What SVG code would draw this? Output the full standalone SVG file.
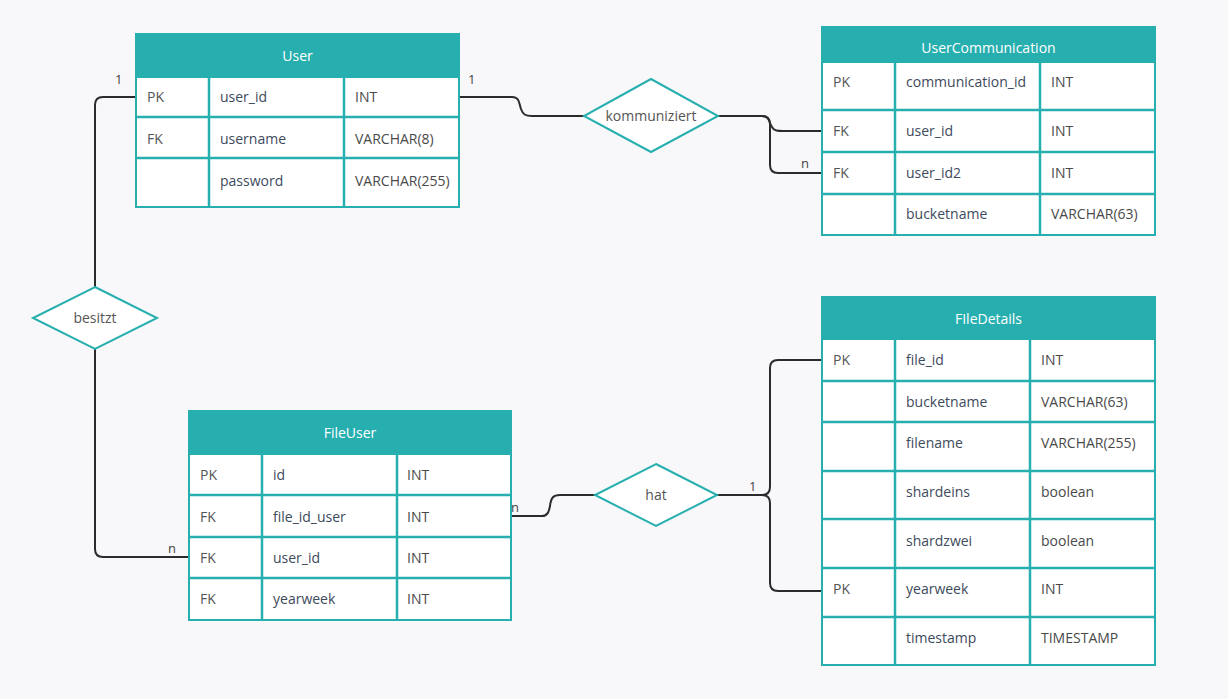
<svg xmlns="http://www.w3.org/2000/svg" width="1228" height="699" viewBox="0 0 1228 699">
<style>
  .bg{fill:#f8f8fb}
  .tbl{fill:#ffffff;stroke:#27afaf;stroke-width:2}
  .hdr{fill:#27afaf;stroke:#27afaf;stroke-width:2}
  .grid{stroke:#27afaf;stroke-width:2.5;fill:none}
  .ht{font-family:"Open Sans","Noto Sans",sans-serif;font-size:14px;fill:#ffffff;text-anchor:middle}
  .k{font-family:"Open Sans","Noto Sans",sans-serif;font-size:14px;fill:#555555}
  .f{font-family:"Open Sans","Noto Sans",sans-serif;font-size:14px;fill:#3d4a5c}
  .t{font-family:"Open Sans","Noto Sans",sans-serif;font-size:14px;fill:#4a4a4a}
  .dia{fill:#ffffff;stroke:#27afaf;stroke-width:2}
  .dt{font-family:"Open Sans","Noto Sans",sans-serif;font-size:14px;fill:#555555;text-anchor:middle}
  .con{fill:none;stroke:#2b2b2b;stroke-width:2}
  .lbl{font-family:"Open Sans","Noto Sans",sans-serif;font-size:13px;fill:#444444}
</style>
<rect class="bg" x="0" y="0" width="1228" height="699"/>

<g id="connectors">
  <!-- User - besitzt -->
  <path class="con" d="M136,97 L103,97 Q95,97 95,105 L95,287"/>
  <!-- besitzt - FileUser -->
  <path class="con" d="M95,349 L95,549 Q95,557 103,557 L189,557"/>
  <!-- User - kommuniziert -->
  <path class="con" d="M459,97 L512,97 C520,97 519,104 521,109 C523,115 526,116 532,116 L584,116"/>
  <!-- kommuniziert - UserCommunication -->
  <path class="con" d="M718,116 L762,116 C770,116 769,123 772,127 C774,131 778,131 783,131 L822,131"/>
  <path class="con" d="M762,116 Q770,116 770,124 L770,165 Q770,173 778,173 L822,173"/>
  <!-- FileUser - hat -->
  <path class="con" d="M511,516 L542,516 C548,516 549,511 550,506 C551,498 553,495 560,495 L595,495"/>
  <!-- hat - FIleDetails -->
  <path class="con" d="M717,495 L762,495 Q770,495 770,487 L770,368 Q770,360 778,360 L822,360"/>
  <path class="con" d="M762,495 Q770,495 770,503 L770,583 Q770,591 778,591 L822,591"/>
  <text class="lbl" x="115" y="84">1</text>
  <text class="lbl" x="168" y="553">n</text>
  <text class="lbl" x="468" y="84">1</text>
  <text class="lbl" x="801" y="168">n</text>
  <text class="lbl" x="511" y="512">n</text>
  <text class="lbl" x="749" y="491">1</text>
</g>

<g id="User">
  <rect class="tbl" x="136" y="34" width="323" height="173"/>
  <rect class="hdr" x="136" y="34" width="323" height="43"/>
  <text class="ht" x="297.5" y="61">User</text>
  <path class="grid" d="M136,117 H459 M136,158 H459 M209,77 V207 M344,77 V207"/>
  <text class="k" x="147" y="102">PK</text><text class="f" x="220" y="102">user_id</text><text class="t" x="355" y="102">INT</text>
  <text class="k" x="147" y="144">FK</text><text class="f" x="220" y="144">username</text><text class="t" x="355" y="144">VARCHAR(8)</text>
  <text class="f" x="220" y="186">password</text><text class="t" x="355" y="186">VARCHAR(255)</text>
</g>

<g id="UserCommunication">
  <rect class="tbl" x="822" y="27" width="333" height="208"/>
  <rect class="hdr" x="822" y="27" width="333" height="35"/>
  <text class="ht" x="988.5" y="53">UserCommunication</text>
  <path class="grid" d="M822,110 H1155 M822,152 H1155 M822,194 H1155 M895,62 V235 M1040,62 V235"/>
  <text class="k" x="833" y="87">PK</text><text class="f" x="906" y="87">communication_id</text><text class="t" x="1051" y="87">INT</text>
  <text class="k" x="833" y="136">FK</text><text class="f" x="906" y="136">user_id</text><text class="t" x="1051" y="136">INT</text>
  <text class="k" x="833" y="178">FK</text><text class="f" x="906" y="178">user_id2</text><text class="t" x="1051" y="178">INT</text>
  <text class="f" x="906" y="219">bucketname</text><text class="t" x="1051" y="219">VARCHAR(63)</text>
</g>

<g id="FileUser">
  <rect class="tbl" x="189" y="411" width="322" height="209"/>
  <rect class="hdr" x="189" y="411" width="322" height="43"/>
  <text class="ht" x="350" y="438">FileUser</text>
  <path class="grid" d="M189,495 H511 M189,537 H511 M189,578 H511 M262,454 V620 M397,454 V620"/>
  <text class="k" x="200" y="480">PK</text><text class="f" x="273" y="480">id</text><text class="t" x="407" y="480">INT</text>
  <text class="k" x="200" y="522">FK</text><text class="f" x="273" y="522">file_id_user</text><text class="t" x="407" y="522">INT</text>
  <text class="k" x="200" y="563">FK</text><text class="f" x="273" y="563">user_id</text><text class="t" x="407" y="563">INT</text>
  <text class="k" x="200" y="604">FK</text><text class="f" x="273" y="604">yearweek</text><text class="t" x="407" y="604">INT</text>
</g>

<g id="FIleDetails">
  <rect class="tbl" x="822" y="297" width="333" height="368"/>
  <rect class="hdr" x="822" y="297" width="333" height="42"/>
  <text class="ht" x="988.5" y="324">FIleDetails</text>
  <path class="grid" d="M822,381 H1155 M822,422 H1155 M822,471 H1155 M822,519 H1155 M822,568 H1155 M822,617 H1155 M895,339 V665 M1030,339 V665"/>
  <text class="k" x="833" y="365">PK</text><text class="f" x="906" y="365">file_id</text><text class="t" x="1041" y="365">INT</text>
  <text class="f" x="906" y="407">bucketname</text><text class="t" x="1041" y="407">VARCHAR(63)</text>
  <text class="f" x="906" y="448">filename</text><text class="t" x="1041" y="448">VARCHAR(255)</text>
  <text class="f" x="906" y="497">shardeins</text><text class="t" x="1041" y="497">boolean</text>
  <text class="f" x="906" y="546">shardzwei</text><text class="t" x="1041" y="546">boolean</text>
  <text class="k" x="833" y="594">PK</text><text class="f" x="906" y="594">yearweek</text><text class="t" x="1041" y="594">INT</text>
  <text class="f" x="906" y="643">timestamp</text><text class="t" x="1041" y="643">TIMESTAMP</text>
</g>

<g id="kommuniziert">
  <polygon class="dia" points="651,79 718,116 651,152 584,116"/>
  <text class="dt" x="651" y="121">kommuniziert</text>
</g>

<g id="besitzt">
  <polygon class="dia" points="95,287 157,318 95,349 33,318"/>
  <text class="dt" x="95" y="323">besitzt</text>
</g>

<g id="hat">
  <polygon class="dia" points="656,464 717,495 656,526 595,495"/>
  <text class="dt" x="656" y="500">hat</text>
</g>
</svg>
